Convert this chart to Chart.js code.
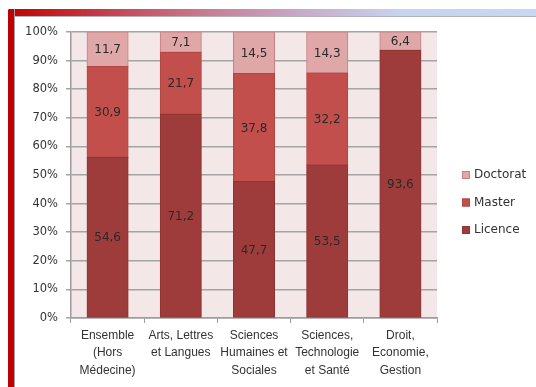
<!DOCTYPE html>
<html>
<head>
<meta charset="utf-8">
<script src="https://cdn.jsdelivr.net/npm/chart.js@4.4.1/dist/chart.umd.min.js"></script>
<style>
  html, body { margin: 0; padding: 0; background: #fff; }
  #wrap { position: relative; width: 536px; height: 387px; overflow: hidden; }
  .frame-top {
    position: absolute; left: 8px; top: 9px; width: 528px; height: 7px;
    background: linear-gradient(to right, #c00000 0%, #c64a5c 22%, #c8788a 36%, #c8a8c8 55%, #c6d4ee 74%, #c8d8f0 100%);
    border-bottom: 1px solid #b4b4bc;
    border-top-left-radius: 2px;
  }
  .frame-left {
    position: absolute; left: 8px; top: 9px; width: 6px; height: 378px;
    background: #c00000; border-right: 1px solid #a89ca4;
    border-top-left-radius: 2px;
  }
  canvas { position: absolute; left: 0; top: 0; }
</style>
</head>
<body>
<div id="wrap">
  <div class="frame-top"></div>
  <div class="frame-left"></div>
  <canvas id="chart" width="536" height="387"></canvas>
</div>
<script>
// répartition des inscrits par cursus (en %)
const categories = [
  ['Ensemble', '(Hors', 'Médecine)'],
  ['Arts, Lettres', 'et Langues'],
  ['Sciences', 'Humaines et', 'Sociales'],
  ['Sciences,', 'Technologie', 'et Santé'],
  ['Droit,', 'Economie,', 'Gestion']
]
const licence = [54.6, 71.2, 47.7, 53.5, 93.6]
const master = [30.9, 21.7, 37.8, 32.2, 0]
const doctorat = [11.7, 7.1, 14.5, 14.3, 6.4]
const seriesNames = ['Licence', 'Master', 'Doctorat']
const yTicks = [0, 10, 20, 30, 40, 50, 60, 70, 80, 90, 100]

const raw = [licence, master, doctorat]
// empilement à 100 % : chaque barre est ramenée au total de sa colonne
const totals = categories.map((c, i) => raw.reduce((s, arr) => s + arr[i], 0))
const share = (arr) => arr.map((v, i) => (v ? v / totals[i] * 100 : null))

const fill = ['#9e3c3b', '#c24f4c', '#dfa7a7']
const stroke = ['#8e3433', '#b04644', '#c98080']

const fmt = (v) => v.toFixed(1).replace('.', ',')

const plotBg = {
  id: 'plotBg',
  beforeDraw(chart) {
    const { ctx, chartArea: a } = chart
    ctx.save()
    ctx.fillStyle = '#f3e7e7'
    ctx.fillRect(a.left, a.top, a.right - a.left, a.bottom - a.top)
    ctx.restore()
  }
}

const segmentLabels = {
  id: 'segmentLabels',
  afterDatasetsDraw(chart) {
    const ctx = chart.ctx
    ctx.save()
    ctx.font = '12px "DejaVu Sans"'
    ctx.fillStyle = '#2a2a2a'
    ctx.textAlign = 'center'
    ctx.textBaseline = 'middle'
    raw.forEach((arr, i) => {
      chart.getDatasetMeta(i).data.forEach((bar, j) => {
        if (!arr[j]) return
        const { x, y, base } = bar.getProps(['x', 'y', 'base'], true)
        ctx.fillText(fmt(arr[j]), x, (y + base) / 2 + 1)
      })
    })
    ctx.restore()
  }
}

// légende à droite, Doctorat en haut
const sideLegend = {
  id: 'sideLegend',
  afterDraw(chart) {
    const { ctx, chartArea: a } = chart
    const x = a.right + 25
    let y = (a.top + a.bottom) / 2
    ctx.save()
    ctx.font = '12px "DejaVu Sans"'
    ctx.textBaseline = 'middle'
    for (let i = chart.data.datasets.length - 1; i >= 0; i--) {
      const ds = chart.data.datasets[i]
      ctx.fillStyle = ds.backgroundColor
      ctx.fillRect(x, y - 4, 8, 8)
      ctx.strokeStyle = ds.borderColor
      ctx.lineWidth = 1
      ctx.strokeRect(x + 0.5, y - 3.5, 7, 7)
      ctx.fillStyle = '#333'
      ctx.fillText(ds.label, x + 12, y)
      y += 27.5
    }
    ctx.restore()
  }
}

const ctx = document.getElementById('chart')
const chart = new Chart(ctx, {
  type: 'bar',
  data: {
    labels: categories,
    datasets: raw.map((arr, i) => ({
      label: seriesNames[i],
      data: share(arr),
      backgroundColor: fill[i],
      borderColor: stroke[i],
      borderWidth: 1,
      borderSkipped: false,
      inflateAmount: 0.5,
      barPercentage: 0.56,
      categoryPercentage: 1
    }))
  },
  options: {
    responsive: false,
    animation: false,
    layout: { padding: { left: 10, top: 32, right: 99, bottom: 4 } },
    plugins: {
      legend: { display: false },
      tooltip: { enabled: false }
    },
    scales: {
      x: {
        stacked: true,
        afterFit: (s) => { s.height = 65 },
        grid: { offset: true, drawOnChartArea: false, tickLength: 5, color: '#9c9c9c' },
        border: { color: '#9c9c9c', width: 1.5 },
        ticks: {
          autoSkip: false,
          maxRotation: 0,
          padding: 4,
          color: '#333',
          font: { family: '"Liberation Sans", Arial', size: 12, lineHeight: 1.45 }
        }
      },
      y: {
        stacked: true,
        min: 0,
        max: 100,
        afterFit: (s) => { s.width = 61 },
        afterBuildTicks: (s) => { s.ticks = yTicks.map((v) => ({ value: v })) },
        grid: { color: '#a4a4a4', lineWidth: 1.5, tickLength: 5 },
        border: { color: '#9c9c9c', width: 1.5 },
        ticks: {
          padding: 8,
          color: '#333',
          font: { family: '"DejaVu Sans"', size: 11.5 },
          callback: (v) => v + '%'
        }
      }
    }
  },
  plugins: [plotBg, segmentLabels, sideLegend]
})
</script>
</body>
</html>
